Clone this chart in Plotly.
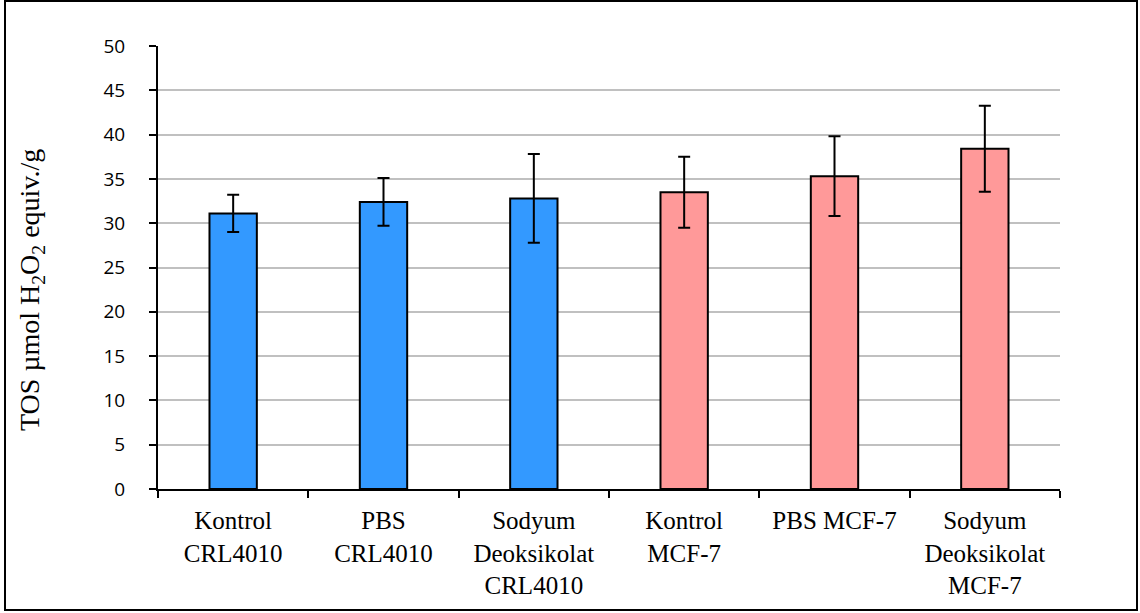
import plotly.graph_objects as go

categories = [
    "Kontrol<br>CRL4010",
    "PBS<br>CRL4010",
    "Sodyum<br>Deoksikolat<br>CRL4010",
    "Kontrol<br>MCF-7",
    "PBS MCF-7",
    "Sodyum<br>Deoksikolat<br>MCF-7",
]
values = [31.1, 32.4, 32.8, 33.5, 35.3, 38.4]
errors = [2.1, 2.7, 5.0, 4.0, 4.5, 4.85]
colors = ["#3399FF", "#3399FF", "#3399FF", "#FF9999", "#FF9999", "#FF9999"]
y_title = "TOS µmol H<sub>2</sub>O<sub>2</sub> equiv./g"

W, H = 1140, 613
L, R, T, B = 158, 80, 46, 124
pw, ph = W - L - R, H - T - B

fig = go.Figure()
fig.add_trace(go.Bar(
    x=categories, y=values,
    marker=dict(color=colors, line=dict(color="black", width=2)),
    error_y=dict(type="data", array=errors, symmetric=True,
                 color="black", thickness=2, width=6),
))

def px_x(p):
    return (p - L) / pw

def px_y(p):
    return (H - B - p) / ph

fig.add_shape(type="rect", xref="paper", yref="paper",
              x0=px_x(5), x1=px_x(1137), y0=px_y(610), y1=px_y(1),
              line=dict(color="black", width=2), layer="below")

fig.add_annotation(text=y_title, xref="paper", yref="paper",
                   x=px_x(31), y=px_y(290), xanchor="center", yanchor="middle",
                   textangle=-90, showarrow=False,
                   font=dict(family="Liberation Serif", size=28, color="black"))

fig.update_layout(
    width=W, height=H,
    margin=dict(l=L, r=R, t=T, b=B),
    paper_bgcolor="white", plot_bgcolor="white",
    bargap=0.685, showlegend=False,
    xaxis=dict(
        type="category", showline=True, linecolor="black", linewidth=2,
        ticks="outside", tickson="boundaries", ticklen=7, tickwidth=2,
        tickcolor="black", showgrid=False,
        tickfont=dict(family="Liberation Serif", size=25, color="black"),
        ticklabelstandoff=8,
    ),
    yaxis=dict(
        range=[0, 50], dtick=5, tick0=0,
        showline=True, linecolor="black", linewidth=2,
        ticks="outside", ticklen=7, tickwidth=2, tickcolor="black",
        showgrid=True, gridcolor="#C0C0C0", gridwidth=1.5, zeroline=False,
        tickfont=dict(family="Open Sans", size=19, color="black"),
        ticklabelstandoff=20,
    ),
)

fig.write_html("out.html", config={"displayModeBar": False},
               post_script="document.body.style.margin='0';document.body.style.overflow='hidden';")
